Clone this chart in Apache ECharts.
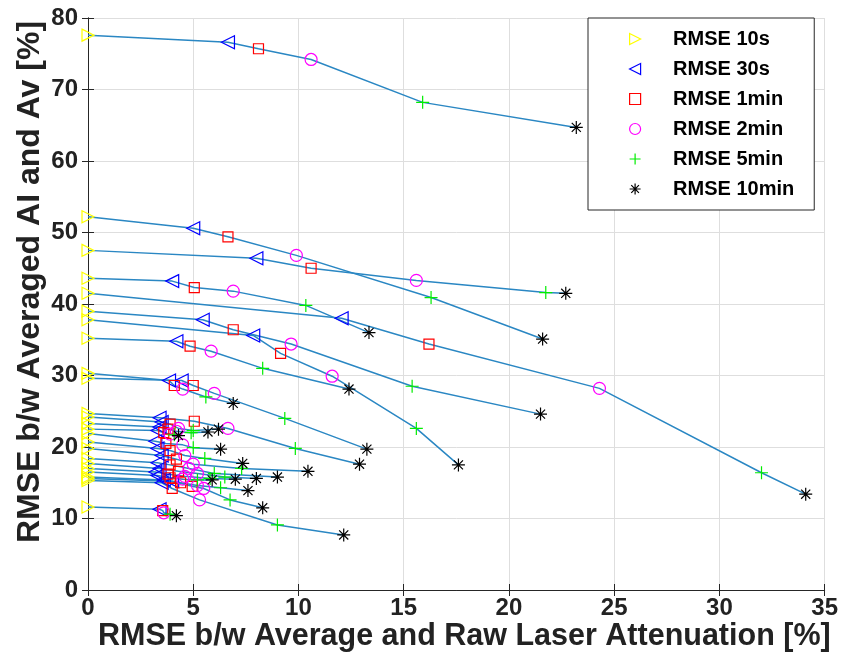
<!DOCTYPE html>
<html>
<head>
<meta charset="utf-8">
<script src="https://cdn.jsdelivr.net/npm/echarts@6/dist/echarts.min.js"></script>
<style>
  html, body { margin: 0; padding: 0; background: #fff; }
  #chart { width: 841px; height: 669px; }
</style>
</head>
<body>
<div id="chart"></div>
<script>
// Legend / series names
const seriesNames = ['RMSE 10s', 'RMSE 30s', 'RMSE 1min', 'RMSE 2min', 'RMSE 5min', 'RMSE 10min'];
// Axis ticks
const xTicks = [0, 5, 10, 15, 20, 25, 30, 35];
const yTicks = [0, 10, 20, 30, 40, 50, 60, 70, 80];

// One entry per curve (same index across arrays = same curve)
const x10s  = [0, 0, 0, 0, 0, 0, 0, 0, 0, 0, 0, 0, 0, 0, 0, 0, 0, 0, 0, 0, 0, 0, 0, 0, 0];
const y10s  = [77.6, 52.2, 47.5, 43.6, 41.5, 39.0, 37.8, 35.2, 30.3, 29.6, 24.7, 24.2, 23.3, 22.5, 21.9, 20.7, 19.8, 18.4, 17.7, 17.0, 16.5, 15.8, 15.3, 15.6, 11.6];
const x30s  = [6.65, 5.0, 8.0, 4.0, 12.05, 5.45, 7.85, 4.2, 3.85, 4.45, 3.4, 3.5, 3.4, 3.3, 3.2, 3.3, 3.5, 3.3, 3.4, 3.2, 3.3, 3.6, 3.5, 4.0, 3.4];
const y30s  = [76.6, 50.6, 46.4, 43.2, 38.0, 37.8, 35.6, 34.8, 29.3, 29.3, 24.1, 23.5, 22.8, 22.3, 20.8, 19.8, 18.8, 17.8, 17.0, 16.5, 16.0, 15.4, 15.0, 15.2, 11.3];
const x1min = [8.1, 6.65, 10.6, 5.05, 16.2, 6.9, 9.15, 4.85, 4.1, 5.0, 5.05, 3.9, 3.8, 3.6, 3.7, 3.9, 4.2, 3.9, 4.3, 3.8, 3.9, 4.4, 4.0, 4.95, 3.55];
const y1min = [75.7, 49.4, 45.0, 42.3, 34.4, 36.4, 33.1, 34.1, 28.6, 28.6, 23.6, 23.2, 22.5, 22.0, 20.5, 19.5, 18.3, 17.5, 16.6, 16.2, 15.7, 15.0, 14.2, 14.5, 11.1];
const x2min = [10.6, 9.9, 15.6, 6.9, 24.3, 9.65, 11.6, 5.85, 4.5, 6.0, 6.65, 4.3, 4.2, 3.9, 4.5, 4.6, 5.0, 4.8, 5.2, 4.6, 4.5, 5.2, 5.3, 5.5, 3.6];
const y2min = [74.2, 46.8, 43.3, 41.8, 28.2, 34.4, 29.9, 33.4, 28.1, 27.5, 22.6, 22.6, 22.2, 21.8, 20.3, 18.8, 17.6, 17.0, 16.3, 15.9, 15.5, 14.6, 12.6, 14.2, 10.8];
const x5min = [15.9, 16.3, 21.75, 10.35, 32.0, 15.4, 15.6, 8.3, 5.6, 9.35, 9.85, 5.0, 4.9, 4.1, 5.0, 5.55, 7.3, 6.0, 6.5, 5.8, 5.2, 6.3, 9.0, 6.75, 3.9];
const y5min = [68.2, 40.9, 41.6, 39.8, 16.4, 28.5, 22.6, 31.0, 27.0, 24.0, 19.8, 22.3, 22.0, 21.7, 19.9, 18.4, 17.0, 16.3, 15.8, 15.6, 15.4, 14.3, 9.1, 12.6, 10.6];
const x10min = [23.2, 21.6, 22.7, 13.35, 34.1, 21.5, 17.6, 12.4, 6.9, 13.25, 12.9, 6.2, 5.7, 4.3, 6.3, 7.35, 10.45, 9.0, 8.0, 7.0, 5.9, 7.6, 12.15, 8.3, 4.2];
const y10min = [64.7, 35.1, 41.5, 36.0, 13.4, 24.6, 17.5, 28.1, 26.1, 19.7, 17.6, 22.5, 22.1, 21.6, 19.7, 17.7, 16.6, 15.8, 15.6, 15.5, 15.4, 13.9, 7.7, 11.5, 10.4];

const xsByInterval = [x10s, x30s, x1min, x2min, x5min, x10min];
const ysByInterval = [y10s, y30s, y1min, y2min, y5min, y10min];

const symbols = [
  'path://M0,0L10,5L0,10Z',
  'path://M10,0L0,5L10,10Z',
  'path://M0,0L10,0L10,10L0,10Z',
  'path://M5,0A5,5 0 1,1 5,10A5,5 0 1,1 5,0Z',
  'path://M5,0L5,10M0,5L10,5',
  'path://M5,0L5,10M0,5L10,5M1.5,1.5L8.5,8.5M8.5,1.5L1.5,8.5'
];
const markerColors = ['#ffff00', '#0000ff', '#ff0000', '#ff00ff', '#00ee00', '#000000'];
const markerSizes = [12, 13, 10, 12, 13, 13];

const FONT = '"Liberation Sans", Arial, Helvetica, sans-serif';
const series = [];
const nCurves = y10s.length;
for (let c = 0; c < nCurves; c++) {
  series.push({
    type: 'line',
    name: 'curve' + c,
    data: xsByInterval.map((xs, k) => [xs[c], ysByInterval[k][c]]),
    symbol: 'none',
    showSymbol: false,
    silent: true,
    z: 2,
    lineStyle: { color: '#2a87c3', width: 1.5 }
  });
}
seriesNames.forEach((name, k) => {
  series.push({
    type: 'scatter',
    name: name,
    data: xsByInterval[k].map((x, c) => [x, ysByInterval[k][c]]),
    symbol: symbols[k],
    symbolSize: markerSizes[k],
    z: 3,
    itemStyle: { color: 'rgba(0,0,0,0)', borderColor: markerColors[k], borderWidth: 1.2, opacity: 1 }
  });
});

const axisCommon = {
  type: 'value',
  axisLine: { show: true, lineStyle: { color: '#262626', width: 1 } },
  axisTick: { show: true, inside: true, length: 6, lineStyle: { color: '#262626' } }
};

const chart = echarts.init(document.getElementById('chart'), null, { renderer: 'canvas' });
chart.setOption({
  animation: false,
  backgroundColor: '#ffffff',
  grid: { left: 88, right: 16, top: 18, bottom: 79, containLabel: false },
  legend: {
    data: seriesNames,
    orient: 'vertical',
    left: 588,
    top: 18,
    itemWidth: 66,
    itemHeight: 11,
    itemGap: 10,
    padding: [11, 20, 11, 41],
    backgroundColor: '#ffffff',
    borderColor: '#262626',
    borderWidth: 1,
    borderRadius: 0,
    itemStyle: { borderWidth: 1.2 },
    textStyle: { fontFamily: FONT, fontWeight: 'bold', fontSize: 20, color: '#000' }
  },
  xAxis: [
    Object.assign({}, axisCommon, {
      position: 'bottom', min: xTicks[0], max: xTicks[xTicks.length - 1], interval: 5,
      name: 'RMSE b/w Average and Raw Laser Attenuation [%]',
      nameLocation: 'middle', nameGap: 31, nameMoveOverlap: false,
      nameTextStyle: { fontFamily: FONT, fontWeight: 'bold', fontSize: 30.5, color: '#222', padding: [0, 0, 0, 16] },
      axisLabel: { margin: 6, fontFamily: FONT, fontWeight: 'bold', fontSize: 24, color: '#222' },
      splitLine: { show: true, lineStyle: { color: '#dedede', width: 1 } }
    }),
    Object.assign({}, axisCommon, {
      position: 'top', min: xTicks[0], max: xTicks[xTicks.length - 1], interval: 5,
      axisLabel: { show: false }, splitLine: { show: false }
    })
  ],
  yAxis: [
    Object.assign({}, axisCommon, {
      position: 'left', min: yTicks[0], max: yTicks[yTicks.length - 1], interval: 10,
      name: 'RMSE b/w Averaged AI and Av [%]',
      nameLocation: 'middle', nameGap: 42, nameRotate: 90, nameMoveOverlap: false,
      nameTextStyle: { fontFamily: FONT, fontWeight: 'bold', fontSize: 32, color: '#222', padding: [0, 0, 0, 44] },
      axisLabel: { margin: 10, fontFamily: FONT, fontWeight: 'bold', fontSize: 24, color: '#222' },
      splitLine: { show: true, lineStyle: { color: '#dedede', width: 1 } }
    }),
    Object.assign({}, axisCommon, {
      position: 'right', min: yTicks[0], max: yTicks[yTicks.length - 1], interval: 10,
      axisLabel: { show: false }, splitLine: { show: false }
    })
  ],
  series: series
});
</script>
</body>
</html>
